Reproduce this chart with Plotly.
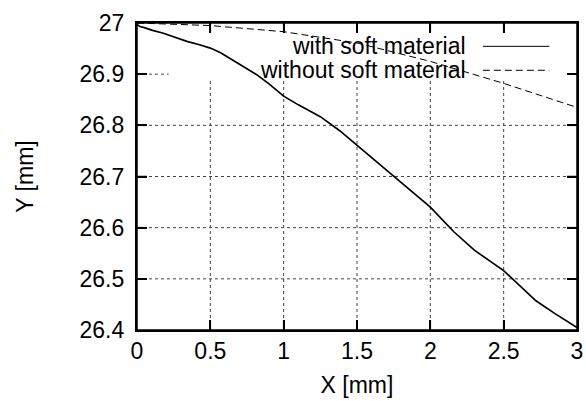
import plotly.graph_objects as go

# with soft material
x_soft = [0.0, 0.02, 0.05, 0.1, 0.18, 0.25, 0.34, 0.42, 0.5, 0.57, 0.635, 0.72, 0.816, 0.9, 1.0,
          1.1, 1.25, 1.38, 1.5, 1.62, 1.75, 1.88, 2.0, 2.16, 2.3, 2.5, 2.6, 2.72, 2.85, 3.0]
y_soft = [26.997, 26.993, 26.991, 26.986, 26.980, 26.973, 26.964, 26.958, 26.951, 26.942, 26.931,
          26.916, 26.899, 26.881, 26.857, 26.840, 26.817, 26.790, 26.761, 26.731, 26.700, 26.670,
          26.640, 26.592, 26.556, 26.516, 26.490, 26.457, 26.432, 26.405]

# without soft material
x_hard = [0.0, 0.5, 1.0, 1.5, 2.0, 2.5, 3.0]
y_hard = [27.0, 26.995, 26.983, 26.961, 26.925, 26.882, 26.835]

x_ticks = [0, 0.5, 1, 1.5, 2, 2.5, 3]
x_ticklabels = ["0", "0.5", "1", "1.5", "2", "2.5", "3"]
y_ticks = [26.4, 26.5, 26.6, 26.7, 26.8, 26.9, 27.0]
y_ticklabels = ["26.4", "26.5", "26.6", "26.7", "26.8", "26.9", "27"]

legend_names = ["with soft material", "without soft material"]

FONT = "Liberation Sans, Arial, Helvetica, sans-serif"
FS = 23
DASH = "7px,4px"

fig = go.Figure()
fig.add_trace(go.Scatter(x=x_soft, y=y_soft, mode="lines", name=legend_names[0],
                         line=dict(color="black", width=1.7), showlegend=False))
fig.add_trace(go.Scatter(x=x_hard, y=y_hard, mode="lines", name=legend_names[1],
                         line=dict(color="black", width=1, dash=DASH), showlegend=False))

axis_common = dict(
    showline=True, linecolor="black", linewidth=1.5, mirror="ticks",
    ticks="inside", ticklen=10, tickwidth=1.5, tickcolor="black",
    showgrid=False, zeroline=False, automargin=False,
    tickfont=dict(family=FONT, size=FS, color="black"),
)

fig.update_xaxes(range=[0, 3], tickvals=x_ticks, ticktext=x_ticklabels,
                 title=dict(text="X [mm]", font=dict(family=FONT, size=FS, color="black"), standoff=14),
                 **axis_common)
fig.update_yaxes(range=[26.4, 27.0], tickvals=y_ticks, ticktext=[t + " " for t in y_ticklabels],
                 title=dict(text="Y [mm]", font=dict(family=FONT, size=FS, color="black"), standoff=39),
                 **axis_common)

grid_line = dict(color="#444", width=1, dash="dot")
# grid lines (drawn as shapes so the key box can blank them)
for xv in x_ticks[1:-1]:
    fig.add_shape(type="line", xref="x", yref="y domain", x0=xv, x1=xv, y0=0, y1=1,
                  line=grid_line, layer="below")
for yv in y_ticks[1:-1]:
    fig.add_shape(type="line", xref="x domain", yref="y", x0=0, x1=1, y0=yv, y1=yv,
                  line=grid_line, layer="below")

# key box blanking the grid (gnuplot opaque key)
fig.add_shape(type="rect", xref="x domain", yref="y domain", x0=0.072, x1=1.0, y0=0.815, y1=1.0,
              fillcolor="white", line=dict(width=0), layer="below")

# inward tick marks on all four sides (mirrored, gnuplot style)
tick_line = dict(color="black", width=1.5)
TX = 10 / 307.0
TY = 10 / 440.0
for xv in x_ticks[1:-1]:
    fig.add_shape(type="line", xref="x", yref="y domain", x0=xv, x1=xv, y0=0, y1=TX,
                  line=tick_line, layer="above")
    fig.add_shape(type="line", xref="x", yref="y domain", x0=xv, x1=xv, y0=1 - TX, y1=1,
                  line=tick_line, layer="above")
for yv in y_ticks[1:-1]:
    fig.add_shape(type="line", xref="x domain", yref="y", x0=0, x1=TY, y0=yv, y1=yv,
                  line=tick_line, layer="above")
    fig.add_shape(type="line", xref="x domain", yref="y", x0=1 - TY, x1=1, y0=yv, y1=yv,
                  line=tick_line, layer="above")

# plot frame
fig.add_shape(type="rect", xref="x domain", yref="y domain", x0=0, x1=1, y0=0, y1=1,
              line=dict(color="black", width=1.5), layer="above")

# key entries
for i, (name, dash) in enumerate([(legend_names[0], "solid"), (legend_names[1], DASH)]):
    yy = [0.924, 0.846][i]
    fig.add_annotation(xref="x domain", yref="y domain", x=0.752, y=yy, text=name,
                       xanchor="right", yanchor="middle", showarrow=False,
                       font=dict(family=FONT, size=FS, color="black"))
    fig.add_shape(type="line", xref="x domain", yref="y domain", x0=0.786, x1=0.937, y0=yy, y1=yy,
                  line=dict(color="black", width=1, dash=dash), layer="above")

fig.update_layout(
    width=586, height=401,
    margin=dict(l=137, r=9, t=23, b=71),
    paper_bgcolor="white", plot_bgcolor="white",
    font=dict(family=FONT, size=FS, color="black"),
)

fig.write_html("out.html")
